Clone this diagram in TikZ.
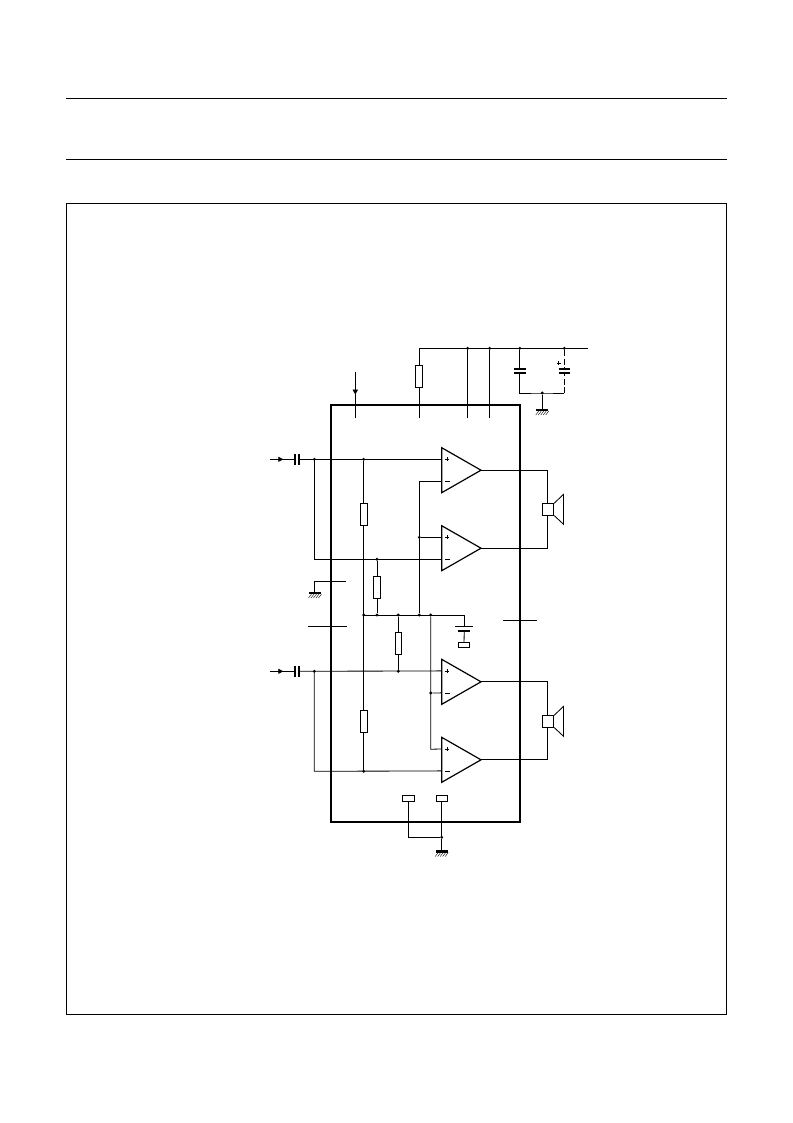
\documentclass[tikz,border=0pt]{standalone}
\usetikzlibrary{calc,arrows.meta}
\tikzset{
  wire/.style={line width=0.85bp,line cap=butt},
  icbox/.style={line width=2.2bp},
  frameln/.style={line width=1bp},
  resbox/.style={draw,line width=0.85bp,fill=white,inner sep=0pt,minimum width=7bp,minimum height=22bp},
  smallbox/.style={draw,line width=0.85bp,fill=white,inner sep=0pt,minimum width=11.5bp,minimum height=5.5bp},
  dotnode/.style={circle,fill=black,inner sep=0pt,minimum size=3.2bp},
  ampshape/.style={line width=1.2bp,line join=miter,fill=white},
  plate/.style={line width=1.7bp},
  platethin/.style={line width=0.9bp},
  gbar/.style={line width=2.2bp},
  hatchln/.style={line width=0.4bp},
  signtext/.style={line width=0.7bp}
}
% opamp: name, top y (left edge x=441.7, height 45, length 39.3)
\newcommand{\ampblock}[2]{%
  \coordinate (#1tl) at (441.7,#2);
  \coordinate (#1bl) at (441.7,#2+45);
  \coordinate (#1o) at (481,#2+22.5);
  \coordinate (#1p) at (441.7,#2+11.6);
  \coordinate (#1m) at (441.7,#2+33.6);
  \draw[ampshape] (#1tl) -- (#1o) -- (#1bl) -- cycle;
  \draw[signtext] (445.4,#2+11.6) -- (449.2,#2+11.6) (447.3,#2+9.7) -- (447.3,#2+13.5);
  \draw[signtext] (445.2,#2+33.6) -- (449.6,#2+33.6);
}
% ground: name, x, y of bar
\newcommand{\gndsym}[3]{%
  \coordinate (#1) at (#2,#3);
  \draw[gbar] (#2-6,#3) -- (#2+6,#3);
  \foreach \k in {-5,-2.5,0,2.5,5}
    \draw[hatchln] (#2+\k+1.5,#3+1) -- (#2+\k-1.5,#3+5);
}
% loudspeaker: name, x of square left, y of square top
\newcommand{\spkr}[3]{%
  \node[draw,line width=0.85bp,fill=white,inner sep=0pt,minimum width=11bp,minimum height=11.4bp,anchor=north west] (#1) at (#2,#3) {};
  \draw[wire] (#1.north east) -- ++(9.4,-9) -- ++(0,30) -- (#1.south east);
}
\begin{document}
\begin{tikzpicture}[x=1bp,y=-1bp]
\useasboundingbox[fill=white] (0,0) rectangle (793,1123);
% page rules and frame
\coordinate (ruleAl) at (66.3,98.5); \coordinate (ruleAr) at (727.3,98.5);
\coordinate (ruleBl) at (66.3,159.5); \coordinate (ruleBr) at (727.3,159.5);
\draw[frameln] (ruleAl) -- (ruleAr);
\draw[frameln] (ruleBl) -- (ruleBr);
\coordinate (frmA) at (66.5,203.5); \coordinate (frmB) at (726.5,1014.5);
\draw[frameln] (frmA) rectangle (frmB);

% IC outline
\coordinate (icA) at (331.3,405); \coordinate (icB) at (519.7,821.7);
\draw[icbox] (icA) rectangle (icB);

% supply rail
\coordinate (railL) at (419.3,348.3);
\coordinate (railR) at (588,348.3);
\draw[wire] (railL) -- (railR);
\node[dotnode] (d468) at (467.6,348.3) {};
\node[dotnode] (d490) at (489.7,348.3) {};
\node[dotnode] (d520) at (519.8,348.3) {};
\node[dotnode] (d564) at (564.3,348.3) {};
\coordinate (pinA) at (355.3,418.3);
\coordinate (pinAt) at (355.3,371.7);
\coordinate (pinB) at (419.3,418.3);
\coordinate (pinC) at (467.6,418.3);
\coordinate (pinD) at (489.7,418.3);
\draw[wire] (railL) -- (pinB);
\draw[wire] (d468) -- (pinC);
\draw[wire] (d490) -- (pinD);
\node[resbox] (rTop) at (419.3,376.3) {};
\draw[wire] (pinAt) -- (pinA);
\draw[-{Triangle[length=5bp,width=5.5bp]},wire] (pinAt) -- (355.3,394.5);

% decoupling capacitors
\coordinate (capJ) at (542.3,393);
\coordinate (capL) at (519.8,393);
\coordinate (capR) at (564.3,393);
\draw[wire] (d520) -- (519.8,369);
\draw[wire] (519.8,373) -- (capL) -- (capJ) -- (capR);
\draw[plate] (514,369) -- (525.7,369);
\draw[plate] (514,373) -- (525.7,373);
\draw[wire,dash pattern=on 6bp off 2.5bp] (d564) -- (564.3,369);
\draw[wire,dash pattern=on 6bp off 2.5bp] (capR) -- (564.3,373);
\draw[plate] (558.5,369) -- (570.2,369);
\draw[plate] (558.5,373) -- (570.2,373);
\draw[signtext] (556.6,363.3) -- (560.8,363.3) (558.7,361.2) -- (558.7,365.4);
\node[dotnode] (dCap) at (capJ) {};
\gndsym{gTop}{542.3}{410}
\draw[wire] (dCap) -- (gTop);

% amplifier blocks
\ampblock{a}{447.7}
\ampblock{b}{525.7}
\ampblock{c}{659.3}
\ampblock{d}{737.3}

% channel 1 input
\coordinate (inA) at (270,459.3);
\coordinate (capAa) at (294.7,459.3);
\coordinate (capAb) at (299.3,459.3);
\draw[wire] (inA) -- (capAa);
\draw[-{Triangle[length=5bp,width=5bp]},wire] (inA) -- (283.3,459.3);
\draw[plate] (294.7,453.7) -- (294.7,464.9);
\draw[plate] (299.3,453.7) -- (299.3,464.9);
\draw[wire] (capAb) -- (ap);
\coordinate (kA) at (314.3,559.3);
\draw[wire] (314.3,459.3) -- (kA) -- (bm);
\node[dotnode] (nA) at (314.3,459.3) {};
\node[dotnode] (nB) at (363.7,459.3) {};
\node[dotnode] (nC) at (377,559.3) {};

% channel 2 input
\coordinate (inB) at (270,671.3);
\coordinate (capBa) at (294.7,671.3);
\coordinate (capBb) at (299.3,671.3);
\draw[wire] (inB) -- (capBa);
\draw[-{Triangle[length=5bp,width=5bp]},wire] (inB) -- (283.3,671.3);
\draw[plate] (294.7,665.7) -- (294.7,676.9);
\draw[plate] (299.3,665.7) -- (299.3,676.9);
\draw[wire] (capBb) -- (cp);
\coordinate (kB) at (314.3,771.3);
\draw[wire] (314.3,671.3) -- (kB) -- (dm);
\node[dotnode] (nD) at (314.3,671.3) {};
\node[dotnode] (nE) at (398.3,671.3) {};
\node[dotnode] (nF) at (363.7,771.3) {};

% vertical divider with two resistors
\draw[wire] (nB) -- (nF);
\node[resbox] (rU) at (363.7,514.5) {};
\node[resbox] (rL) at (363.7,721.2) {};

% reference bus
\coordinate (bF) at (464.3,615);
\coordinate (capCt) at (464.3,626.3);
\draw[wire] (363.7,615) -- (bF) -- (capCt);
\node[dotnode] (bA) at (363.7,615) {};
\node[dotnode] (bB) at (377,615) {};
\node[dotnode] (bC) at (398.3,615) {};
\node[dotnode] (bD) at (419.3,615) {};
\node[dotnode] (bE) at (430.7,615) {};
\draw[platethin] (455,626.3) -- (473,626.3);
\draw[plate,line width=2bp] (458.3,631) -- (470,631);
\node[smallbox,minimum height=5bp] (rC) at (464,644.8) {};
\draw[wire] (464.3,631) -- (rC.north);
\draw[wire] (nC) -- (bB);
\node[resbox] (rM) at (377,587.3) {};
\draw[wire] (bC) -- (nE);
\node[resbox,minimum width=6.4bp] (rN) at (398.3,643.3) {};

% feedback connections
\coordinate (fbA) at (419.3,481.3);
\draw[wire] (am) -- (fbA) -- (bD);
\node[dotnode] (fbB) at (419.3,537.3) {};
\draw[wire] (fbB) -- (bp);
\coordinate (fbC) at (430.7,749.3);
\draw[wire] (bE) -- (fbC) -- (dp);
\node[dotnode] (fbD) at (430.7,693) {};
\draw[wire] (fbD) -- (cm);

% outputs and loudspeakers
\coordinate (o1) at (547.7,470.2);
\coordinate (o2) at (547.7,548.2);
\coordinate (o3) at (547.7,681.8);
\coordinate (o4) at (547.7,759.8);
\draw[wire] (ao) -- (o1) -- (o2) -- (bo);
\draw[wire] (co) -- (o3) -- (o4) -- (do);
\spkr{s1}{542.3}{503.3}
\spkr{s2}{542.3}{715.3}

% stubs
\coordinate (gL) at (346,581.3);
\coordinate (gLk) at (314.3,581.3);
\gndsym{gLeft}{315}{593}
\draw[wire] (gL) -- (gLk) -- (gLk |- gLeft);
\coordinate (stA) at (308,626.3); \coordinate (stB) at (347,626.3);
\draw[wire] (stA) -- (stB);
\coordinate (stC) at (503.3,620.3); \coordinate (stD) at (536.7,620.3);
\draw[wire] (stC) -- (stD);

% bottom ground
\node[smallbox,minimum width=12.4bp] (pA) at (408.5,798.3) {};
\node[smallbox] (pB) at (442,798.3) {};
\coordinate (gK) at (408.5,837.3);
\node[dotnode] (gD) at (441.7,837.3) {};
\gndsym{gBot}{441.7}{851.5}
\draw[wire] (pA.south) -- (gK) -- (gD);
\draw[wire] (pB.south -| gD) -- (gD) -- (gBot);
\end{tikzpicture}
\end{document}
